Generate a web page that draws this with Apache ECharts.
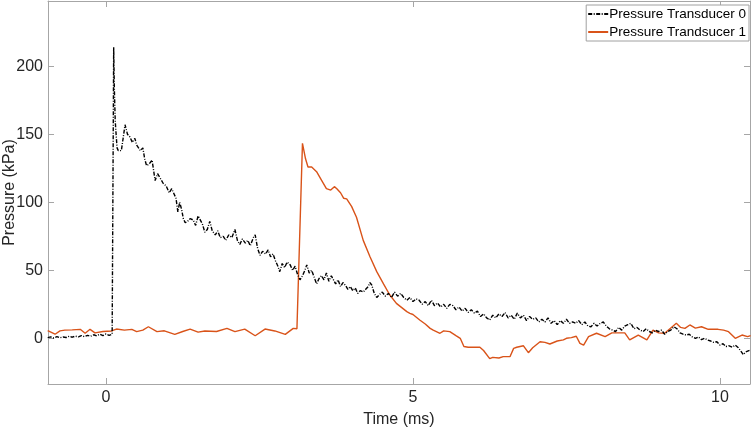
<!DOCTYPE html>
<html>
<head>
<meta charset="utf-8">
<script src="https://cdn.jsdelivr.net/npm/echarts@6/dist/echarts.min.js"></script>
<style>
html,body{margin:0;padding:0;background:#fff;}
#chart{width:754px;height:430px;}
</style>
</head>
<body>
<div id="chart"></div>
<script>
// Pressure Transducer 0: [time (ms), pressure (kPa)]
const transducer0 = [
[-0.95,0.5],[-0.9,1.0],[-0.85,0.2],[-0.8,1.2],[-0.75,0.4],[-0.7,1.0],[-0.65,0.6],[-0.6,1.5],[-0.55,0.8],[-0.5,1.6],
[-0.45,1.0],[-0.4,2.0],[-0.35,1.2],[-0.3,2.2],[-0.25,1.5],[-0.2,2.6],[-0.15,1.8],[-0.1,3.0],[-0.05,2.0],[0,3.2],
[0.05,2.2],[0.1,3.0],[0.12,3.0],[0.125,214],[0.135,185],[0.15,160],[0.16,153],[0.18,140],[0.2,138],[0.25,138],
[0.28,139],[0.31,157],[0.35,150],[0.39,148],[0.43,144],[0.47,147],[0.5,142],[0.53,141],[0.56,138],[0.6,140],
[0.63,132],[0.66,127],[0.7,128],[0.75,131],[0.8,116],[0.84,121],[0.88,118],[0.93,114],[0.98,112],[1.03,107],
[1.07,110],[1.1,109],[1.14,103],[1.17,93],[1.2,100],[1.23,95],[1.26,88],[1.29,85],[1.33,86],[1.37,88],
[1.42,87],[1.46,83],[1.5,90],[1.53,91],[1.57,84],[1.61,78],[1.65,80],[1.69,86],[1.73,79],[1.78,76],
[1.82,79],[1.86,74],[1.91,75],[1.95,72],[2.0,76],[2.05,74],[2.1,80],[2.14,72],[2.18,69],[2.22,73],
[2.27,70],[2.31,72],[2.35,68],[2.4,74],[2.43,76],[2.47,66],[2.51,61],[2.55,64],[2.6,62],[2.64,65],
[2.68,60],[2.72,62],[2.76,57],[2.8,53],[2.83,49],[2.87,55],[2.91,52],[2.95,56],[3.0,54],[3.04,50],
[3.08,53],[3.12,47],[3.16,43],[3.2,46],[3.24,50],[3.27,54],[3.31,48],[3.35,50],[3.39,45],[3.43,40],
[3.47,44],[3.51,46],[3.55,43],[3.59,48],[3.63,42],[3.67,46],[3.7,45],[3.74,40],[3.78,43],[3.82,38],
[3.86,41],[3.9,39],[3.94,36],[3.98,38],[4.02,35],[4.06,37],[4.1,33],[4.14,35],[4.19,34],[4.23,36],
[4.27,38],[4.3,41],[4.33,39],[4.37,33],[4.41,30],[4.45,32],[4.5,34],[4.55,31],[4.6,33],[4.65,30],
[4.7,34],[4.75,31],[4.8,33],[4.85,30],[4.9,28],[4.95,30],[5.0,27],[5.05,29],[5.1,28],[5.15,25],
[5.2,27],[5.25,24],[5.3,28],[5.35,24],[5.4,26],[5.45,23],[5.5,25],[5.55,22],[5.6,25],[5.65,24],
[5.7,21],[5.75,23],[5.8,20],[5.85,22],[5.9,19],[5.95,21],[6.0,18.5],[6.05,20],[6.1,16],[6.15,18],
[6.2,15],[6.25,13.5],[6.3,17],[6.35,15],[6.4,18],[6.45,16],[6.5,19],[6.55,15],[6.6,17],[6.65,14],
[6.7,18.5],[6.75,15],[6.8,17],[6.85,13],[6.9,16],[6.95,14],[7.0,15],[7.05,12],[7.1,14],[7.15,12],
[7.2,15],[7.25,11],[7.3,13],[7.35,10],[7.4,13],[7.45,11],[7.5,14],[7.55,11],[7.6,12],[7.65,11],
[7.7,13],[7.75,10],[7.8,12],[7.85,9],[7.9,8.5],[7.95,11],[8.0,9],[8.05,11],[8.1,12],[8.15,9],
[8.2,7],[8.25,6],[8.3,5],[8.35,8],[8.4,6],[8.45,9],[8.5,10],[8.55,11],[8.6,7],[8.65,8],
[8.7,6],[8.75,5],[8.8,7],[8.85,5],[8.9,4],[8.95,6],[9.0,5],[9.05,6],[9.1,3],[9.15,5],
[9.2,6],[9.25,8.5],[9.3,7],[9.35,4],[9.4,3],[9.45,2.4],[9.5,3],[9.55,1],[9.6,0],[9.65,1],
[9.7,-1],[9.75,0],[9.8,-1.3],[9.85,-2],[9.9,-3],[9.95,-2.5],[10.0,-5],[10.05,-4],[10.1,-6],[10.15,-5.5],
[10.2,-6.5],[10.25,-5],[10.3,-7],[10.35,-10],[10.38,-12],[10.42,-10],[10.45,-9],[10.5,-8.5]
];

// Pressure Trandsucer 1: [time (ms), pressure (kPa)]
const transducer1 = [
[-0.95,5.6],[-0.83,3.0],[-0.75,5.5],[-0.67,6.0],[-0.55,6.2],[-0.42,6.6],[-0.34,3.7],[-0.26,6.6],[-0.18,4.0],[-0.05,5.0],
[0.09,5.4],[0.17,6.8],[0.3,6.0],[0.42,6.6],[0.5,4.9],[0.6,6.0],[0.69,8.5],[0.83,4.9],[0.95,5.5],[1.12,2.9],
[1.25,5.0],[1.37,6.8],[1.5,4.5],[1.61,5.4],[1.8,5.0],[1.97,7.3],[2.1,4.9],[2.26,6.8],[2.43,1.9],[2.59,6.8],
[2.75,5.4],[2.92,2.9],[3.05,7.3],[3.11,7.0],[3.2,143.4],[3.25,132],[3.29,126],[3.35,126],[3.38,125],[3.43,122.5],
[3.5,117],[3.59,110],[3.66,109],[3.72,111.5],[3.76,110],[3.82,107],[3.87,103],[3.92,102.5],[3.95,103],[4.0,97],
[4.08,89],[4.19,72],[4.3,60],[4.41,49],[4.52,40],[4.62,32],[4.73,25.7],[4.9,19.6],[4.95,18.4],[5.0,17.5],
[5.11,13.5],[5.2,10.5],[5.28,7.3],[5.33,6.0],[5.44,3.7],[5.5,5.5],[5.6,4.9],[5.7,2.0],[5.77,0],[5.83,-6.0],
[5.9,-6.6],[6.09,-6.6],[6.15,-9.0],[6.25,-15],[6.3,-14],[6.4,-14.5],[6.47,-13.5],[6.58,-13.5],[6.64,-7.4],[6.69,-6.6],
[6.8,-5.5],[6.88,-10.6],[6.95,-7.0],[7.07,-2.5],[7.15,-3.0],[7.23,-4.2],[7.35,-2.0],[7.45,-1.2],[7.5,0],[7.58,0.5],
[7.66,1.5],[7.72,-3.7],[7.78,-5.0],[7.86,1.2],[7.99,3.7],[8.02,4.9],[8.13,1.2],[8.24,4.0],[8.45,4.0],[8.53,-1.2],
[8.67,2.4],[8.81,-1.2],[8.91,6.0],[9.0,4.0],[9.1,3.7],[9.29,11],[9.36,8.0],[9.43,7.3],[9.51,9.8],[9.6,7.5],
[9.7,8.5],[9.81,6.6],[9.97,6.6],[10.06,6.0],[10.14,4.9],[10.25,0],[10.36,2.4],[10.45,1.2],[10.5,2.0]
];

const xTicks = [0, 5, 10];
const yTicks = [0, 50, 100, 150, 200];
const seriesNames = ['Pressure Transducer 0', 'Pressure Trandsucer 1'];

const FONT = '"Liberation Sans", Arial, Helvetica, sans-serif';
const AXIS_COLOR = '#a6a6a6';
const LABEL_COLOR = '#262626';
const xMin = -0.945, xMax = 10.49, yMin = -33.6, yMax = 248;

const chart = echarts.init(document.getElementById('chart'), null, {renderer: 'canvas'});
const tickCommon = {show: true, inside: true, length: 6, lineStyle: {color: AXIS_COLOR, width: 1}};
chart.setOption({
  animation: false,
  backgroundColor: '#fff',
  textStyle: {fontFamily: FONT},
  grid: {left: 48, right: 4, top: 1, bottom: 46, containLabel: false, outerBoundsMode: 'none'},
  legend: {
    orient: 'vertical', right: 5, top: 5,
    data: seriesNames,
    itemWidth: 20, itemHeight: 14, itemGap: 4,
    padding: [2, 3, 2, 1],
    borderColor: '#a0a0a0', borderWidth: 1, backgroundColor: '#fff',
    itemStyle: {opacity: 0},
    textStyle: {fontSize: 13.5, color: '#000', fontFamily: FONT, padding: [0, 0, 0, -4]}
  },
  xAxis: [{
    type: 'value', min: xMin, max: xMax, position: 'bottom',
    name: 'Time (ms)', nameLocation: 'middle', nameGap: 28, nameMoveOverlap: false,
    nameTextStyle: {fontSize: 16, color: LABEL_COLOR, fontFamily: FONT},
    axisLine: {show: true, onZero: false, lineStyle: {color: AXIS_COLOR, width: 1}},
    axisTick: Object.assign({customValues: xTicks}, tickCommon),
    axisLabel: {customValues: xTicks, fontSize: 16, color: LABEL_COLOR, margin: 6, fontFamily: FONT},
    splitLine: {show: false}
  }, {
    type: 'value', min: xMin, max: xMax, position: 'top',
    axisLine: {show: true, onZero: false, lineStyle: {color: AXIS_COLOR, width: 1}},
    axisTick: Object.assign({customValues: xTicks}, tickCommon),
    axisLabel: {show: false},
    splitLine: {show: false}
  }],
  yAxis: [{
    type: 'value', min: yMin, max: yMax, position: 'left',
    name: 'Pressure (kPa)', nameLocation: 'middle', nameGap: 30, nameMoveOverlap: false,
    nameTextStyle: {fontSize: 16, color: LABEL_COLOR, fontFamily: FONT},
    axisLine: {show: true, onZero: false, lineStyle: {color: AXIS_COLOR, width: 1}},
    axisTick: Object.assign({customValues: yTicks}, tickCommon),
    axisLabel: {customValues: yTicks, fontSize: 16, color: LABEL_COLOR, margin: 5, fontFamily: FONT},
    splitLine: {show: false}
  }, {
    type: 'value', min: yMin, max: yMax, position: 'right',
    axisLine: {show: true, onZero: false, lineStyle: {color: AXIS_COLOR, width: 1}},
    axisTick: Object.assign({customValues: yTicks}, tickCommon),
    axisLabel: {show: false},
    splitLine: {show: false}
  }],
  series: [{
    name: seriesNames[0], type: 'line', data: transducer0,
    xAxisIndex: 0, yAxisIndex: 0,
    symbol: 'none', smooth: false,
    lineStyle: {color: '#000', width: 1.4, type: [4, 1.5, 1, 1.5]},
    itemStyle: {color: '#000'},
    z: 3
  }, {
    name: seriesNames[1], type: 'line', data: transducer1,
    xAxisIndex: 0, yAxisIndex: 0,
    symbol: 'none', smooth: false,
    lineStyle: {color: '#D95319', width: 1.4},
    itemStyle: {color: '#D95319'},
    z: 2
  }]
});
</script>
</body>
</html>
